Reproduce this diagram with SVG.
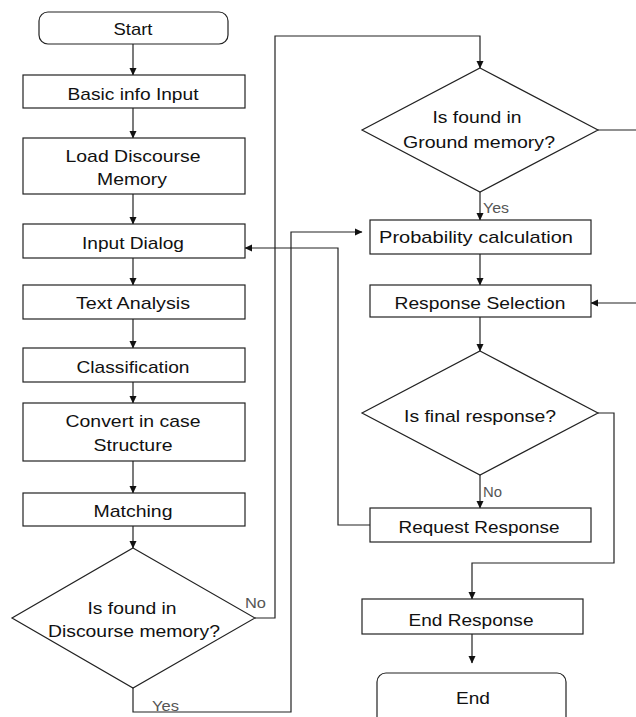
<svg xmlns="http://www.w3.org/2000/svg" width="636" height="717" viewBox="0 0 636 717">
<defs>
<marker id="ah" markerWidth="8" markerHeight="8" refX="7" refY="4" orient="auto" markerUnits="userSpaceOnUse">
<path d="M0,0.5 L7.5,4 L0,7.5 Z" fill="#111"/>
</marker>
</defs>
<style>
.box{fill:#fff;stroke:#222;stroke-width:1.2}
.t{font-family:"Liberation Sans",Arial,sans-serif;font-size:17px;fill:#111;text-anchor:middle}
.lbl{font-family:"Liberation Sans",Arial,sans-serif;font-size:14px;fill:#555}
.c{fill:none;stroke:#222;stroke-width:1.2}
</style>
<rect width="636" height="717" fill="#fff"/>
<g id="connectors">
<path class="c" d="M133,44 V75" marker-end="url(#ah)"/>
<path class="c" d="M133,108 V138" marker-end="url(#ah)"/>
<path class="c" d="M133,194 V224" marker-end="url(#ah)"/>
<path class="c" d="M133,258 V285" marker-end="url(#ah)"/>
<path class="c" d="M133,319 V348" marker-end="url(#ah)"/>
<path class="c" d="M133,382 V403" marker-end="url(#ah)"/>
<path class="c" d="M133,461 V493" marker-end="url(#ah)"/>
<path class="c" d="M133,526 V548" marker-end="url(#ah)"/>
<path class="c" d="M255,618 H275 V36 H480 V68" marker-end="url(#ah)"/>
<path class="c" d="M133,688 V712 H291 V232 H362" marker-end="url(#ah)"/>
<path class="c" d="M598,130 H636"/>
<path class="c" d="M480,192 V220" marker-end="url(#ah)"/>
<path class="c" d="M480,254 V285" marker-end="url(#ah)"/>
<path class="c" d="M636,303 H591" marker-end="url(#ah)"/>
<path class="c" d="M480,317 V351" marker-end="url(#ah)"/>
<path class="c" d="M480,475 V508" marker-end="url(#ah)"/>
<path class="c" d="M370,525 H338 V248 H245" marker-end="url(#ah)"/>
<path class="c" d="M598,413 H614 V563 H472 V599" marker-end="url(#ah)"/>
<path class="c" d="M472,634 V663" marker-end="url(#ah)"/>
<text class="lbl" x="245" y="608" textLength="21" lengthAdjust="spacingAndGlyphs">No</text>
<text class="lbl" x="152" y="711" textLength="27" lengthAdjust="spacingAndGlyphs">Yes</text>
<text class="lbl" x="483" y="213" textLength="26" lengthAdjust="spacingAndGlyphs">Yes</text>
<text class="lbl" x="483" y="497" textLength="19" lengthAdjust="spacingAndGlyphs">No</text>
</g>
<g id="start"><rect class="box" x="39" y="12" width="189" height="32" rx="9"/><text class="t" x="133" y="35" textLength="39" lengthAdjust="spacingAndGlyphs">Start</text></g>
<g id="basic"><rect class="box" x="23" y="75" width="222" height="33"/><text class="t" x="133" y="100" textLength="131" lengthAdjust="spacingAndGlyphs">Basic info Input</text></g>
<g id="load"><rect class="box" x="23" y="138" width="222" height="56"/><text class="t" x="133" y="162" textLength="135" lengthAdjust="spacingAndGlyphs">Load Discourse</text><text class="t" x="132" y="185" textLength="70" lengthAdjust="spacingAndGlyphs">Memory</text></g>
<g id="inputdialog"><rect class="box" x="23" y="224" width="222" height="34"/><text class="t" x="133" y="249" textLength="102" lengthAdjust="spacingAndGlyphs">Input Dialog</text></g>
<g id="textanalysis"><rect class="box" x="23" y="285" width="222" height="34"/><text class="t" x="133" y="309" textLength="114" lengthAdjust="spacingAndGlyphs">Text Analysis</text></g>
<g id="classification"><rect class="box" x="23" y="348" width="222" height="34"/><text class="t" x="133" y="373" textLength="113" lengthAdjust="spacingAndGlyphs">Classification</text></g>
<g id="convert"><rect class="box" x="23" y="403" width="222" height="58"/><text class="t" x="133" y="427" textLength="135" lengthAdjust="spacingAndGlyphs">Convert in case</text><text class="t" x="133" y="451" textLength="79" lengthAdjust="spacingAndGlyphs">Structure</text></g>
<g id="matching"><rect class="box" x="23" y="493" width="222" height="33"/><text class="t" x="133" y="517" textLength="79" lengthAdjust="spacingAndGlyphs">Matching</text></g>
<g id="discourse"><polygon class="box" points="133,548 255,618 133,688 12,618"/><text class="t" x="132" y="614" textLength="89" lengthAdjust="spacingAndGlyphs">Is found in</text><text class="t" x="134" y="637" textLength="172" lengthAdjust="spacingAndGlyphs">Discourse memory?</text></g>
<g id="ground"><polygon class="box" points="480,68 598,130 480,192 362,130"/><text class="t" x="477" y="123" textLength="89" lengthAdjust="spacingAndGlyphs">Is found in</text><text class="t" x="479" y="148" textLength="152" lengthAdjust="spacingAndGlyphs">Ground memory?</text></g>
<g id="probability"><rect class="box" x="370" y="220" width="221" height="34"/><text class="t" x="476" y="243" textLength="194" lengthAdjust="spacingAndGlyphs">Probability calculation</text></g>
<g id="selection"><rect class="box" x="370" y="285" width="221" height="32"/><text class="t" x="480" y="309" textLength="171" lengthAdjust="spacingAndGlyphs">Response Selection</text></g>
<g id="final"><polygon class="box" points="480,351 598,413 480,475 362,413"/><text class="t" x="480" y="422" textLength="152" lengthAdjust="spacingAndGlyphs">Is final response?</text></g>
<g id="request"><rect class="box" x="370" y="508" width="221" height="34"/><text class="t" x="479" y="533" textLength="161" lengthAdjust="spacingAndGlyphs">Request Response</text></g>
<g id="endresponse"><rect class="box" x="362" y="599" width="221" height="35"/><text class="t" x="471" y="626" textLength="125" lengthAdjust="spacingAndGlyphs">End Response</text></g>
<g id="end"><rect class="box" x="377" y="673" width="189" height="60" rx="9"/><text class="t" x="473" y="704" textLength="34" lengthAdjust="spacingAndGlyphs">End</text></g>
</svg>
